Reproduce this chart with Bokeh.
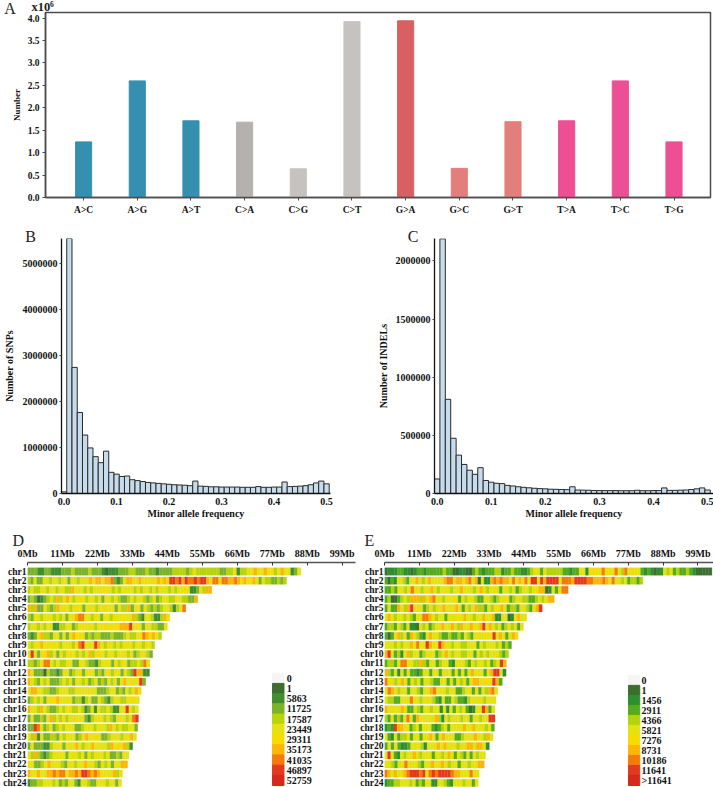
from bokeh.embed import file_html
from bokeh.resources import INLINE
from bokeh.layouts import column, row
from bokeh.models import Range1d, FixedTicker, ColumnDataSource, LinearAxis
from bokeh.plotting import figure
from bokeh.core.properties import value

# ---------------- data ----------------
mutations = ["A>C","A>G","A>T","C>A","C>G","C>T","G>A","G>C","G>T","T>A","T>C","T>G"]
mutation_counts = [1.24,2.60,1.71,1.68,0.64,3.92,3.94,0.65,1.69,1.71,2.60,1.24]
mutation_colors = ["#3590b0","#3590b0","#3590b0","#b5b1ae","#c6c2bf","#c6c2bf",
                   "#d86060","#e27f7c","#e27f7c","#ec4f94","#ec4f94","#ec4f94"]

maf_bins = [i/100 for i in range(51)]
snp_counts = [35000,5550000,2740000,1760000,1270000,990000,800000,670000,920000,460000,420000,370000,
  380000,300000,280000,260000,240000,230000,220000,210000,200000,190000,185000,180000,170000,270000,
  160000,155000,145000,145000,140000,140000,140000,140000,135000,135000,135000,150000,135000,135000,
  140000,140000,250000,150000,155000,160000,170000,190000,230000,270000,210000]
indel_counts = [125000,2190000,810000,475000,330000,250000,200000,165000,222000,112000,97000,88000,85000,
  70000,65000,58000,53000,49000,45000,42000,40000,37000,36000,34000,33000,58000,30000,29000,28000,26000,
  25000,25000,25000,25000,24000,24000,24000,28000,24000,24000,25000,25000,48000,27000,27000,29000,30000,
  34000,40000,48000,30000]

chroms = ["chr%d" % i for i in range(1,25)]
lengths_d = [86,81.5,58,53.6,49.8,44.8,44,42.2,40,39.4,38.5,38.4,37.2,35.8,35.2,34.9,34.9,34.7,34.3,33.1,31.9,31.5,29.9,29.6]
lengths_e = [103.4,81.6,58,53.6,49.8,44.9,43.9,42.2,40.1,39.2,38.5,38.4,37.2,35.8,35.2,34.9,34.9,34.7,34.3,33.1,31.9,31.5,29.9,29.6]
mb_ticks = list(range(0,100,11))

legend_colors = ["#f5f5f3","#3c6e2f","#3f8f2f","#7cb32a","#b9d30c","#e6e213","#f7dc00","#fcb606","#f47b0a","#e23a1e","#d6281c"]
legend_colors_e = ["#f5f5f3","#3c6e2f","#2e8f2f","#55ab1d","#b5d30c","#e4e210","#f6dc00","#fcb606","#f47b0a","#e23a1e","#d6281c"]
legend_labels_d = ["0","1","5863","11725","17587","23449","29311","35173","41035","46897","52759"]
legend_labels_e = ["0","1","1456","2911","4366","5821","7276","8731","10186","11641",">11641"]

panel_letters = ["A","B","C","D","E"]

levels_d = [
"3 3 3 2 2 3 3 2 2 2 3 3 3 4 3 3 3 3 4 3 3 3 2 1 2 2 2 3 3 3 4 4 3 3 3 4 3 3 2 3 3 3 3 4 4 4 4 3 4 5 4 4 4 4 4 4 4 3 3 4 4 5 2 4 4 5 5 7 5 5 7 5 6 4 5 7 5 5 2 3 5",
"4 3 5 3 3 5 5 4 5 5 4 5 5 3 5 5 4 5 5 5 7 5 7 7 5 7 7 8 3 2 3 5 7 7 6 5 7 5 6 5 6 5 7 6 7 6 9 9 8 9 7 9 8 8 9 8 9 9 7 5 8 8 5 8 8 7 7 8 7 6 7 5 6 7 5 3 5 4 4 3 3 4 3 4",
"4 5 4 4 5 5 4 5 5 4 5 5 4 4 7 5 5 5 4 5 4 5 5 5 6 5 5 4 5 4 5 5 5 5 4 5 4 5 5 4 5 4 5 5 5 4 5 4 5 5 6 5 2 2 3 5 4 7 7",
"3 4 3 1 2 3 4 5 4 7 4 5 7 5 4 5 6 5 4 5 5 4 5 3 5 5 4 5 4 3 3 4 5 4 5 5 4 3 4 5 3 4 5 5 4 4 5 5 4 4 3 3 7",
"7 4 7 3 3 5 4 3 4 7 5 5 5 4 5 5 5 3 5 5 5 4 5 5 6 5 5 3 5 4 4 7 3 5 5 3 5 4 3 4 3 4 5 5 4 2 4 5 8",
"4 3 5 5 4 5 5 5 4 5 4 5 3 5 5 7 8 8 5 5 4 5 5 3 5 5 4 6 5 5 6 5 5 7 4 3 2 5 5 4 2 2 4 7 5",
"4 5 5 4 5 4 5 5 2 2 4 4 5 5 3 4 5 6 5 5 5 4 5 5 6 5 6 5 6 7 7 7 9 5 5 5 3 5 5 4 4 3 3 5",
"3 2 3 5 7 4 4 3 5 5 3 5 3 5 7 6 6 5 3 4 3 4 4 3 3 3 4 3 3 3 4 5 4 4 5 6 8 7 6 7 5 4",
"5 4 5 5 7 5 5 6 5 5 4 5 5 5 4 6 8 9 5 5 5 9 7 5 4 5 5 4 5 4 5 6 5 4 5 5 4 6 5 4",
"5 9 5 3 5 6 7 4 5 3 5 4 5 6 5 4 5 4 5 7 4 5 6 5 4 5 5 4 5 5 5 4 5 3 4 5 5 4 3",
"4 4 3 4 5 8 8 5 4 5 4 4 5 5 3 3 5 5 4 3 3 2 4 5 5 5 3 5 4 5 5 3 4 4 5 4 8 5",
"7 5 3 3 3 1 4 3 3 2 3 5 5 3 4 5 5 3 5 5 5 3 4 3 5 5 4 5 5 3 5 4 3 9 7 7 2 2",
"7 5 4 3 5 4 5 3 3 3 4 5 4 5 3 5 5 4 5 3 4 5 3 4 3 5 4 5 3 5 7 5 5 5 5 9 3",
"5 7 7 5 5 4 4 3 3 4 5 5 5 4 4 5 5 5 5 5 5 5 3 3 3 4 5 5 3 4 3 5 4 5 7 5",
"3 4 5 4 5 3 5 6 6 7 5 5 5 5 3 4 4 2 4 5 3 3 5 4 3 2 4 5 5 4 4 5 6 5 5",
"7 5 5 4 7 5 4 3 3 4 5 4 5 6 4 4 5 4 2 3 5 2 5 4 4 5 4 2 2 5 5 9 5 4 5",
"3 5 3 3 4 3 5 7 4 5 4 6 4 5 5 5 5 5 3 2 4 5 6 5 4 5 4 3 5 5 5 4 5 8 9",
"3 3 9 8 5 3 4 5 3 4 5 4 5 5 5 3 3 4 5 5 5 4 5 5 5 4 7 5 4 5 4 4 5 5 3",
"5 4 7 2 5 3 3 4 4 3 5 4 5 5 5 3 4 5 7 5 5 6 5 3 3 4 5 5 5 4 5 5 7 5",
"3 5 3 3 3 2 2 4 5 5 5 3 5 5 5 7 5 4 5 5 7 5 5 5 5 4 7 5 6 5 7 4 2",
"5 4 7 4 3 2 3 4 5 5 5 5 3 5 5 5 4 5 3 5 4 5 5 5 4 5 3 3 4 3 5 5",
"5 5 3 3 4 5 7 5 5 5 4 3 5 5 4 5 5 7 5 5 4 3 5 4 5 3 5 5 7 7",
"7 5 5 7 5 5 7 7 8 7 8 8 5 7 7 8 7 9 9 8 7 8 7 6 5 5 5 7 4 5",
"2 3 3 4 4 5 5 5 4 5 3 4 3 5 5 3 2 5 5 4 3 3 5 5 5 4 5 5 3 5",
]
levels_e = [
"1 2 2 2 3 3 2 2 1 2 3 3 2 3 3 3 3 3 4 3 3 1 1 2 2 1 1 3 4 3 2 3 3 3 4 4 2 3 3 4 3 3 2 2 3 4 5 5 3 5 4 4 4 4 4 3 3 2 3 3 5 5 2 6 6 5 6 8 5 6 5 8 5 4 8 5 5 6 5 3 2 3 2 1 2 2 5 4 5 3 4 3 3 4 3 2 1 1 1 1 1",
"3 1 3 2 5 5 4 3 5 5 7 5 4 5 7 5 6 5 5 7 8 8 5 7 7 6 7 8 5 7 1 5 2 2 7 8 7 8 7 7 5 8 5 7 6 8 5 9 9 5 9 7 9 9 9 9 5 8 8 8 7 9 9 9 9 8 8 7 7 7 8 7 5 8 5 5 4 5 3 4 4 3 4",
"3 3 4 3 5 5 4 5 8 5 5 4 5 5 7 5 4 5 5 5 4 5 5 7 5 5 5 4 5 7 5 4 5 5 5 3 5 5 4 5 3 4 5 5 4 5 6 7 7 1 2 5 3 5 8 8",
"3 4 1 1 3 4 5 4 7 7 7 4 7 5 7 8 5 5 4 5 5 6 5 3 5 4 5 5 4 3 3 5 5 4 3 4 5 5 6 3 4 5 5 4 4 3 3 4 5 4 5 7 7",
"3 5 3 3 7 5 4 7 9 5 5 5 3 4 5 4 5 5 7 5 5 5 7 5 3 5 4 5 7 4 4 3 5 4 6 5 7 5 3 4 4 3 5 5 4 3 5 7 9",
"5 7 5 4 5 5 4 5 4 3 5 5 8 8 7 5 4 5 5 3 5 5 5 6 5 7 5 5 4 5 5 7 5 5 7 2 2 5 5 1 2 5 7 5 5",
"3 4 4 3 5 4 3 5 2 2 1 5 4 5 3 4 5 5 7 5 5 7 5 4 7 5 5 7 6 5 7 9 5 7 5 4 5 3 4 5 4 5 3 5",
"3 1 3 5 7 4 5 3 7 5 4 3 2 5 7 5 5 4 3 3 4 3 3 4 3 5 4 3 5 6 5 5 6 5 9 5 7 5 3 5 7 5",
"5 5 5 4 5 4 5 5 7 5 8 5 5 9 7 5 5 9 7 5 5 4 5 5 4 4 5 5 5 3 5 4 5 5 5 4 5 3 4 3",
"7 9 5 3 4 2 5 7 4 5 5 3 4 5 5 5 3 4 5 7 5 4 5 5 4 4 5 5 3 5 4 5 4 5 5 5 4 3 4",
"3 4 4 3 5 8 8 5 5 4 4 7 4 3 5 5 3 4 5 5 3 2 5 5 5 4 3 5 4 5 5 4 5 3 4 5 9 7",
"7 4 3 5 2 5 3 5 3 3 2 3 5 5 3 5 5 3 5 5 5 3 5 3 5 3 5 7 5 5 5 3 5 7 9 9 5 2",
"8 5 5 4 5 7 5 3 5 4 5 3 5 5 4 3 3 5 5 3 5 3 5 4 5 3 5 7 7 5 5 6 5 9 7 3",
"5 8 7 5 4 5 5 3 5 5 4 3 5 5 7 8 5 5 5 4 5 5 3 3 4 5 5 3 5 3 5 4 7 8 5",
"5 4 4 3 3 5 5 5 8 5 5 4 5 5 5 4 3 2 5 3 3 5 4 3 3 2 4 5 5 5 5 4 5 5 5",
"7 5 5 5 5 7 5 3 3 5 4 3 5 5 4 5 5 2 5 2 5 3 5 4 5 3 1 2 5 5 9 7 3 5",
"4 3 5 3 4 3 5 8 5 3 7 5 5 5 5 5 7 4 2 5 4 5 5 5 4 5 5 3 5 5 4 5 5 9 9",
"2 3 2 9 7 7 5 5 3 4 5 3 5 5 5 3 2 3 4 5 3 5 5 5 5 7 5 5 7 5 5 5 4 5 3",
"5 3 2 5 3 4 4 5 3 5 5 3 5 5 7 5 3 5 7 5 5 5 3 3 4 5 5 5 7 5 5 4 7 5",
"3 5 3 5 3 2 2 3 5 5 5 4 2 5 5 5 7 5 7 5 5 5 4 5 5 7 7 5 7 7 5 2",
"5 9 5 3 2 5 4 5 5 7 5 4 5 5 5 3 5 5 4 5 7 5 3 5 4 3 5 3 5 4 5 5",
"5 5 4 3 5 5 8 5 5 5 4 3 5 5 7 5 5 7 5 4 5 5 3 5 5 4 5 5 7 7",
"8 7 5 7 5 5 7 8 9 9 9 8 9 5 8 9 8 9 9 9 9 8 7 7 5 5 5 8 5 5",
"2 3 3 4 4 5 5 5 4 5 3 4 3 5 5 2 2 5 5 4 3 2 5 5 5 4 5 5 3 5",
]

# ---------------- styling helpers ----------------
SERIF = "Liberation Serif"
DARK = "#4d4d4d"

def fig(w, h, l, r, t, b, xr, yr):
    p = figure(width=w, height=h, x_range=xr, y_range=yr, output_backend="svg",
               toolbar_location=None, min_border_left=l, min_border_right=r,
               min_border_top=t, min_border_bottom=b, outline_line_color=None,
               background_fill_color="white", border_fill_color="white")
    p.grid.visible = False
    return p

def style_axis(ax, size="9.5px"):
    ax.major_label_text_font = SERIF
    ax.major_label_text_font_style = "bold"
    ax.major_label_text_font_size = size
    ax.major_label_text_color = "#111111"
    ax.axis_label_text_font = SERIF
    ax.axis_label_text_font_style = "bold"
    ax.axis_label_text_color = "#111111"
    ax.minor_tick_line_color = None
    ax.major_tick_in = 0

# ---------------- A ----------------
pa = fig(713, 228, 45, 3, 12, 31, Range1d(-0.71, 11.68), Range1d(0, 4.125))
pa.vbar(x=list(range(12)), top=mutation_counts, width=0.3, color=mutation_colors)
pa.outline_line_color = DARK
pa.outline_line_width = 1.5
pa.xaxis.ticker = FixedTicker(ticks=list(range(12)))
pa.xaxis.major_label_overrides = dict(enumerate(mutations))
pa.yaxis.ticker = FixedTicker(ticks=[0,0.5,1,1.5,2,2.5,3,3.5,4])
pa.yaxis.major_label_overrides = {0:"0.0",1:"1.0",2:"2.0",3:"3.0",4:"4.0"}
for ax in (pa.xaxis[0], pa.yaxis[0]):
    style_axis(ax)
    ax.axis_line_color = DARK
    ax.axis_line_width = 1.5
    ax.major_tick_line_color = DARK
    ax.major_tick_out = 3
pa.xaxis.major_label_standoff = 4
pa.yaxis.major_label_standoff = 3
pa.yaxis.axis_label = "Number"
pa.yaxis.axis_label_text_font_size = "9px"
pa.yaxis.axis_label_standoff = 3

# ---------------- B, C ----------------
def hist(w, l, r, t, b, xr, yr, vals, yt, ylab, xlab_std):
    p = fig(w, 297, l, r, t, b, xr, yr)
    p.vbar(x=maf_bins, top=vals, width=0.01, fill_color="#c6dbec", line_color="#2a2a2a", line_width=1)
    p.xaxis.ticker = FixedTicker(ticks=[0,0.1,0.2,0.3,0.4,0.5])
    p.xaxis.major_label_overrides = {0:"0.0"}
    p.yaxis.ticker = FixedTicker(ticks=yt)
    p.yaxis.formatter.use_scientific = False
    for ax in (p.xaxis[0], p.yaxis[0]):
        style_axis(ax, "10px")
        ax.axis_line_color = "#111111"
        ax.axis_line_width = 1.3
        ax.major_tick_line_color = "#444444"
        ax.major_tick_out = 2
    p.xaxis.major_tick_line_color = None
    p.xaxis.major_label_standoff = 2
    p.yaxis.major_label_standoff = 2
    p.yaxis.axis_label = ylab
    p.xaxis.axis_label = "Minor allele frequency"
    p.xaxis.axis_label_text_font_size = "10px"
    p.yaxis.axis_label_text_font_size = "10px"
    p.xaxis.axis_label_standoff = 0
    p.yaxis.axis_label_standoff = xlab_std
    return p

pb = hist(350, 57, 20, 10, 32, Range1d(-0.005, 0.5075), Range1d(0, 5540000), snp_counts,
          [0,1000000,2000000,3000000,4000000,5000000], "Number of SNPs", 5)
pc = hist(363, 84, 0, 10, 31, Range1d(-0.005, 0.511), Range1d(0, 2193000), indel_counts,
          [0,500000,1000000,1500000,2000000], "Number of INDELs", 4)

# ---------------- D, E ----------------
def heat(w, xmax, lengths, levels, colors, labels, j_top, j_bot, cell_x, text_x):
    p = fig(w, 262, 27, w - 27 - int(round(xmax[1])), 37, 0, Range1d(0, xmax[0]), Range1d(23.51, -0.98))
    left, right, y, col = [], [], [], []
    for i, (ln, lv) in enumerate(zip(lengths, levels)):
        vals = lv.split()
        step = ln / len(vals)
        for k, v in enumerate(vals):
            left.append(k * step); right.append((k + 1) * step)
            y.append(i); col.append(colors[int(v)])
    src = ColumnDataSource(dict(left=left, right=right, bottom=[a + 0.4 for a in y],
                                top=[a - 0.4 for a in y], col=col))
    p.quad(left="left", right="right", bottom="bottom", top="top", color="col", source=src, line_width=0.3)
    p.xaxis.visible = False
    ax = LinearAxis()
    p.add_layout(ax, "above")
    ax.ticker = FixedTicker(ticks=mb_ticks)
    ax.major_label_overrides = {m: "%dMb" % m for m in mb_ticks}
    style_axis(ax, "10px")
    ax.axis_line_color = "#555555"
    ax.axis_line_width = 1.5
    ax.major_tick_line_color = "#333333"
    ax.major_tick_in = 3
    ax.major_tick_out = 0
    ax.major_label_standoff = 4
    yax = p.left[0]
    yax.ticker = FixedTicker(ticks=list(range(24)))
    yax.major_label_overrides = dict(enumerate(chroms))
    style_axis(yax, "9.5px")
    yax.axis_line_color = None
    yax.major_tick_line_color = None
    yax.major_tick_out = 0
    yax.major_label_standoff = 1
    p.extra_y_ranges = {"legend": Range1d(j_bot, j_top)}
    n = list(range(len(labels)))
    p.quad(left=cell_x[0], right=cell_x[1], top=[a - 0.5 for a in n], bottom=[a + 0.5 for a in n],
           color=colors, y_range_name="legend")
    p.text(x=text_x, y=n, text=labels, text_font=value(SERIF), text_font_style="bold",
           text_font_size="10px", text_color="#111111", text_baseline="middle",
           y_range_name="legend")
    return p

pd_ = heat(357, (103.2, 328), lengths_d, levels_d, legend_colors, legend_labels_d,
           -11.34, 10.69, (77.1, 80.7), 81.6)
pe = heat(356, (103.9, 329), lengths_e, levels_e, legend_colors_e, legend_labels_e,
          -11.77, 10.7, (77.05, 80.6), 81.2)

# ---------------- overlay for the panel letters, pixel-scaled to the page ----------------
ov = figure(width=713, height=787, x_range=Range1d(0, 713), y_range=Range1d(787, 0),
            output_backend="svg", toolbar_location=None, min_border=0, outline_line_color=None,
            background_fill_color=None, border_fill_color=None, x_axis_type=None, y_axis_type=None)
ov.grid.visible = False
ov.text(x=[9.5, 30, 412.7, 17.7, 369], y=[7.5, 236, 236, 540, 540], text=panel_letters,
        text_font=value(SERIF), text_font_size="16px", text_color="#222222",
        text_align="center", text_baseline="middle")
ov.text(x=[31], y=[6.5], text=["x10"], text_font=value(SERIF), text_font_style="bold",
        text_font_size="12.5px", text_color="#222222", text_baseline="middle")
ov.text(x=[49.5], y=[3.5], text=["6"], text_font=value(SERIF), text_font_style="bold",
        text_font_size="7.5px", text_color="#222222", text_baseline="middle")

main = column(pa, row(pb, pc, spacing=0), row(pd_, pe, spacing=0), spacing=0)
page = column(main, row(ov, margin=(-787, 0, 0, 0)), spacing=0)
open("out.html", "w").write(file_html(page, INLINE))
